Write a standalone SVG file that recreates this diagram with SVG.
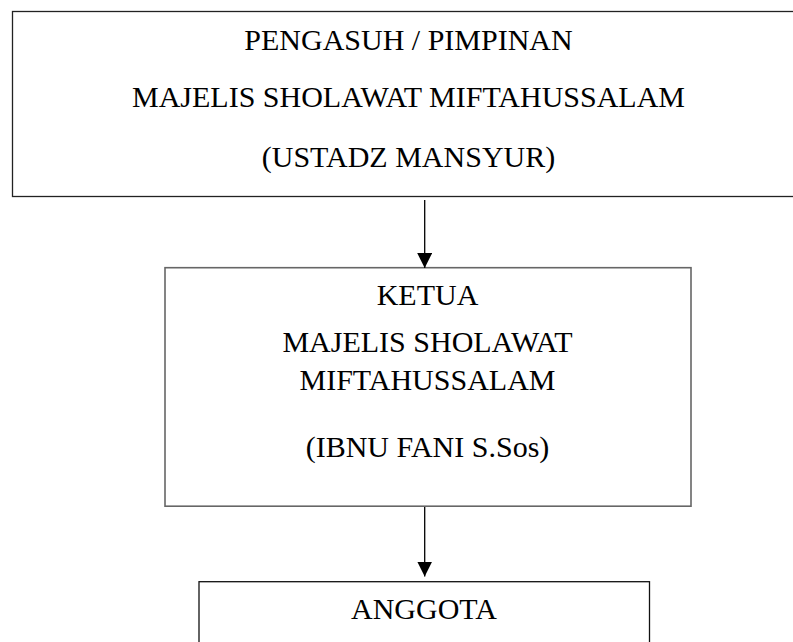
<svg xmlns="http://www.w3.org/2000/svg" width="793" height="642" viewBox="0 0 793 642">
  <style>
    .box { fill: #ffffff; }
    .t { font-family: "Liberation Serif", "Times New Roman", serif; font-size: 30px; fill: #000; text-anchor: middle; }
    .conn { stroke: #000; stroke-width: 1.3; fill: none; }
  </style>
  <defs>
    <marker id="arrow" markerWidth="15" markerHeight="15" refX="15" refY="7.5" orient="auto" markerUnits="userSpaceOnUse">
      <path d="M0,0 L15,7.5 L0,15 Z" fill="#000"/>
    </marker>
  </defs>
  <rect width="793" height="642" fill="#fff"/>
  <g id="node-pengasuh">
    <rect class="box" x="12.5" y="11.5" width="800" height="185" stroke="#222" stroke-width="1.3"/>
    <text class="t" x="408.5" y="49.5">PENGASUH / PIMPINAN</text>
    <text class="t" x="408.5" y="107">MAJELIS SHOLAWAT MIFTAHUSSALAM</text>
    <text class="t" x="408.5" y="167">(USTADZ MANSYUR)</text>
  </g>
  <g id="node-ketua">
    <rect class="box" x="165" y="267.7" width="526" height="238.5" stroke="#666" stroke-width="1.6"/>
    <text class="t" x="427.5" y="305">KETUA</text>
    <text class="t" x="427.5" y="351.7">MAJELIS SHOLAWAT</text>
    <text class="t" x="427.5" y="390">MIFTAHUSSALAM</text>
    <text class="t" x="427.5" y="457">(IBNU FANI S.Sos)</text>
  </g>
  <g id="node-anggota">
    <rect class="box" x="199" y="581.7" width="450.5" height="80" stroke="#111" stroke-width="1.3"/>
    <text class="t" x="424" y="619.3">ANGGOTA</text>
  </g>
  <g id="connectors">
    <line class="conn" x1="424.7" y1="200" x2="424.7" y2="268" marker-end="url(#arrow)"/>
    <line class="conn" x1="424.7" y1="507" x2="424.7" y2="576.5" marker-end="url(#arrow)"/>
  </g>
</svg>
